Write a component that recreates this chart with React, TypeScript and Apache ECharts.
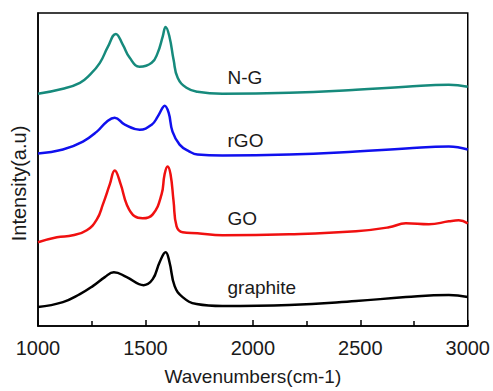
import React, { useEffect, useRef } from "react";
import * as echarts from "echarts";

// Wavenumber (cm-1) / offset intensity (a.u.) pairs, stacked traces
const ngX = [1000, 1116, 1195, 1241, 1288, 1325, 1362, 1395, 1427, 1473, 1529, 1557, 1580, 1594, 1612, 1631, 1650, 1691, 1742, 1858, 2169, 2480, 2712, 2912, 3000];
const ngY = [233, 238, 244, 252, 264, 280, 293, 282, 269, 260, 264, 274, 290, 300, 290, 267, 249, 239, 235, 233, 234, 237, 240, 242, 240];

const rgoX = [1000, 1116, 1209, 1274, 1320, 1357, 1404, 1473, 1529, 1557, 1580, 1589, 1608, 1626, 1659, 1705, 1742, 1858, 2169, 2480, 2712, 2912, 3000];
const rgoY = [173, 177, 185, 195, 205, 209, 202, 197, 202, 210, 219, 221, 214, 195, 182, 175, 172, 171, 172, 175, 178, 180, 177];

const goX = [1000, 1088, 1162, 1227, 1274, 1302, 1334, 1357, 1385, 1413, 1450, 1487, 1534, 1575, 1589, 1603, 1617, 1631, 1645, 1673, 1742, 1858, 2169, 2480, 2633, 2712, 2819, 2912, 2958, 3000];
const goY = [84, 89, 91, 96, 107, 122, 142, 156, 142, 122, 110, 108, 112, 132, 152, 160, 152, 125, 100, 94, 93, 91, 92, 95, 99, 103, 102, 105, 106, 103];

const grX = [1000, 1116, 1195, 1255, 1311, 1353, 1413, 1492, 1534, 1566, 1594, 1612, 1636, 1673, 1738, 1858, 2169, 2480, 2712, 2912, 3000];
const grY = [19, 24, 32, 40, 49, 54, 49, 41, 47, 64, 74, 64, 40, 29, 22, 20, 21, 25, 29, 31, 29];

const seriesNames = ["N-G", "rGO", "GO", "graphite"];
const seriesColors = ["#168a7c", "#1010ee", "#f01010", "#000000"];
const labelX = [1882, 1882, 1882, 1882];
const labelY = [249, 186, 108, 39];

const xTicks = [1000, 1500, 2000, 2500, 3000];

const FONT = "'Liberation Sans', Arial, sans-serif";

export default function App() {
  const ref = useRef<HTMLDivElement>(null);
  useEffect(() => {
    if (!ref.current) return;
    const chart = echarts.init(ref.current, undefined, { renderer: "svg" });
    const xs = [ngX, rgoX, goX, grX];
    const ys = [ngY, rgoY, goY, grY];
    const series = seriesNames.map((name, i) => ({
      name,
      type: "line",
      data: xs[i].map((x, j) => [x, ys[i][j]]),
      smooth: 0.45,
      showSymbol: false,
      symbol: "none",
      lineStyle: { color: seriesColors[i], width: 2.5 },
      itemStyle: { color: seriesColors[i] },
      markPoint: {
        symbol: "circle",
        symbolSize: 0,
        silent: true,
        data: [
          {
            coord: [labelX[i], labelY[i]],
            label: {
              show: true,
              formatter: name,
              position: "inside",
              align: "left",
              verticalAlign: "middle",
              fontSize: 19,
              fontFamily: FONT,
              color: "#1a1a1a",
            },
          },
        ],
      },
    }));
    chart.setOption({
      animation: false,
      backgroundColor: "#ffffff",
      grid: {
        left: 38,
        right: 24,
        top: 13,
        bottom: 64,
        show: true,
        borderColor: "#000",
        borderWidth: 1.5,
      },
      xAxis: {
        type: "value",
        min: xTicks[0],
        max: xTicks[xTicks.length - 1],
        interval: 500,
        name: "Wavenumbers(cm-1)",
        nameLocation: "middle",
        nameGap: 41,
        nameTextStyle: { fontSize: 19, fontFamily: FONT, color: "#1a1a1a" },
        axisLine: { show: true, lineStyle: { color: "#000", width: 1.5 } },
        axisTick: { show: true, inside: true, length: 6, lineStyle: { color: "#000", width: 1.5 } },
        minorTick: { show: true, splitNumber: 2, length: 5, lineStyle: { color: "#000", width: 1.5 } },
        axisLabel: {
          fontSize: 20,
          fontFamily: FONT,
          color: "#1a1a1a",
          margin: 12,
          formatter: (v: number) => String(v),
        },
        splitLine: { show: false },
      },
      yAxis: {
        type: "value",
        min: 0,
        max: 314,
        name: "Intensity(a.u)",
        nameLocation: "middle",
        nameGap: 9,
        nameTextStyle: { fontSize: 20, fontFamily: FONT, color: "#1a1a1a", padding: [0, 28, 0, 0] },
        axisLine: { show: true, lineStyle: { color: "#000", width: 1.5 } },
        axisTick: { show: false },
        axisLabel: { show: false },
        splitLine: { show: false },
      },
      series,
    });
    return () => chart.dispose();
  }, []);
  return <div ref={ref} style={{ width: 493, height: 391, position: "absolute", left: 0, top: 0 }} />;
}
